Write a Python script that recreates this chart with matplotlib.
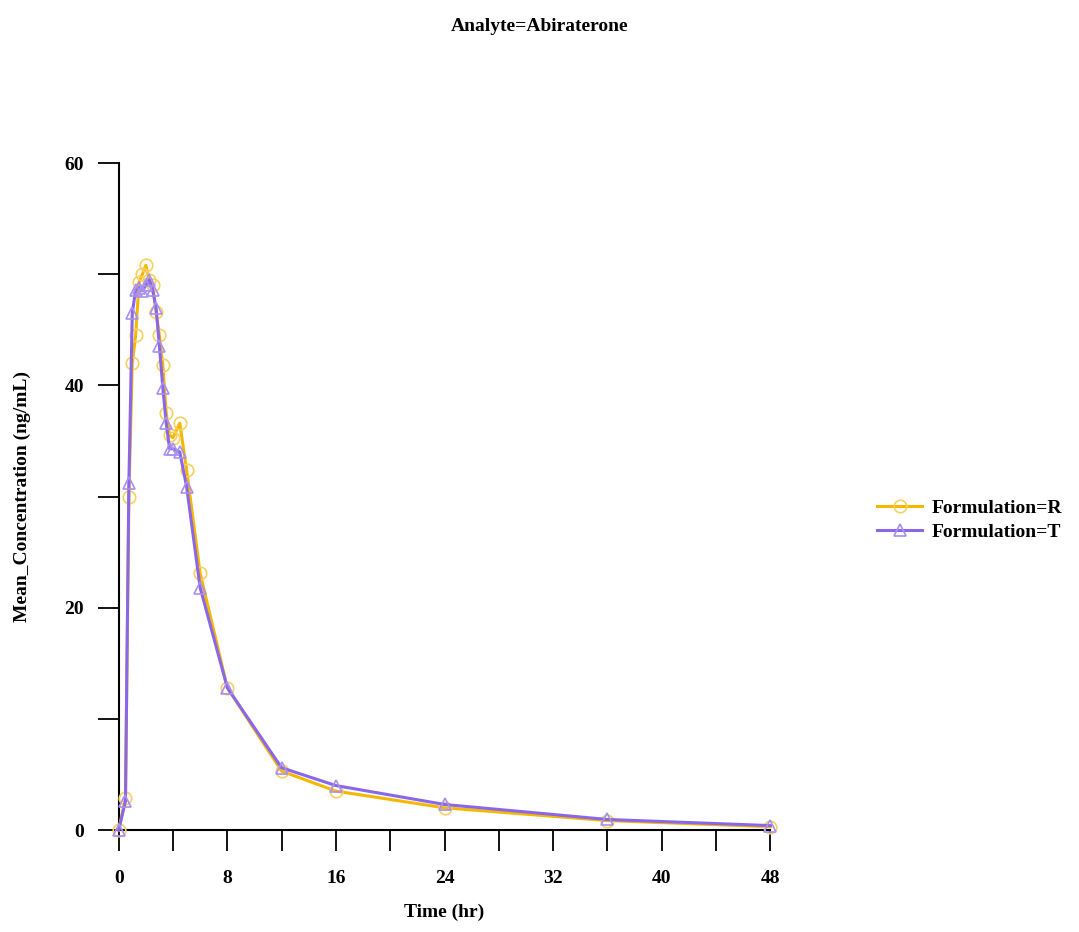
import numpy as np
import matplotlib.pyplot as plt
from matplotlib.ticker import MultipleLocator

# mean concentration-time profiles
time_hr = [0, 0.5, 0.75, 1, 1.25, 1.5, 1.75, 2, 2.25, 2.5, 2.75, 3, 3.25,
           3.5, 3.75, 4, 4.5, 5, 6, 8, 12, 16, 24, 36, 48]
conc_R = [0, 2.9, 30.0, 42.0, 44.5, 49.3, 50.0, 50.8, 49.5, 49.0, 46.6, 44.5,
          41.8, 37.5, 35.5, 35.3, 36.6, 32.4, 23.1, 12.8, 5.3, 3.5, 2.0, 0.85, 0.3]
conc_T = [0, 2.6, 31.2, 46.5, 48.6, 48.8, 48.5, 49.0, 49.5, 48.6, 47.0, 43.5,
          39.8, 36.6, 34.3, 34.3, 34.0, 30.9, 21.8, 12.8, 5.6, 4.0, 2.3, 0.95, 0.4]
labels = ["Formulation=R", "Formulation=T"]

plt.rcParams['font.family'] = ['Liberation Serif', 'DejaVu Serif']
plt.rcParams['font.weight'] = 'bold'

fig = plt.figure(figsize=(10.79, 9.32), dpi=100)
ax = fig.add_axes([0.110, 0.1094, 0.604, 0.7157])

col_R = '#F5B800'
col_T = '#8A66E8'

ax.plot(time_hr, conc_R, color=col_R, lw=2.2, marker='o', ms=9,
        mfc='none', mec='#F8D060', mew=1.2, label=labels[0], zorder=3)
ax.plot(time_hr, conc_T, color=col_T, lw=2.2, marker='^', ms=9,
        mfc='none', mec='#A890F0', mew=1.2, label=labels[1], zorder=4)

ax.set_xlim(0, 48)
ax.set_ylim(0, 60)
ax.xaxis.set_major_locator(MultipleLocator(8))
ax.xaxis.set_minor_locator(MultipleLocator(4))
ax.yaxis.set_major_locator(MultipleLocator(20))
ax.yaxis.set_minor_locator(MultipleLocator(10))
ax.tick_params(which='both', direction='out', length=15, width=1.3, labelsize=14)
ax.tick_params(axis='x', pad=14)
ax.tick_params(axis='y', pad=10)
for s in ['top', 'right']:
    ax.spines[s].set_visible(False)
for s in ['left', 'bottom']:
    ax.spines[s].set_linewidth(1.5)
for ln in ax.lines:
    ln.set_clip_on(False)

ax.set_xlabel("Time (hr)", fontsize=14, fontweight='bold', labelpad=12)
ax.set_ylabel("Mean_Concentration (ng/mL)", fontsize=14, fontweight='bold', labelpad=24)
fig.text(0.5, 0.972, "Analyte=Abiraterone", ha='center', va='center',
         fontsize=14, fontweight='bold')

fig.legend(loc='center left', bbox_to_anchor=(0.813, 0.442), frameon=False,
           fontsize=14, handlelength=2.3, labelspacing=0.3, handletextpad=0.5,
           borderaxespad=0, borderpad=0)

fig.savefig("out.png", dpi=100)
